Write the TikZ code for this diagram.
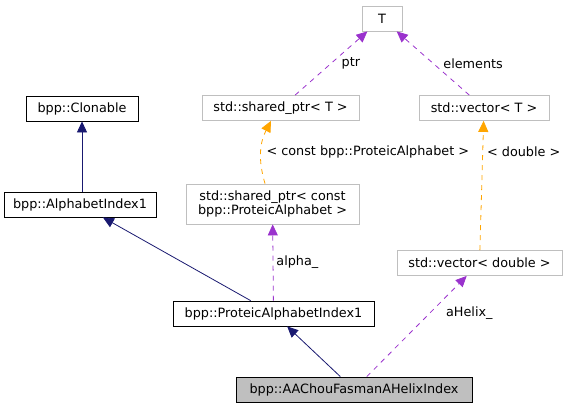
\documentclass[tikz,border=0pt]{standalone}
\usepackage{fontspec}
\setmainfont{DejaVu Sans}
\usepackage{xcolor}
\usetikzlibrary{arrows.meta, positioning}

\definecolor{edgeblue}{HTML}{191970}
\definecolor{edgepurple}{HTML}{9A32CD}
\definecolor{edgeorange}{HTML}{FFA500}
\definecolor{boxgrey}{HTML}{BFBFBF}

\begin{document}
\begin{tikzpicture}[
x=1pt, y=-1pt,
every node/.style={font=\fontsize{12.8}{14}\selectfont},
cls/.style={draw=black, rectangle, align=center, minimum height=25pt, inner sep=2pt, line width=0.8pt},
ext/.style={cls, draw=boxgrey},
inh/.style={-{Triangle[length=11pt, width=10pt]}, edgeblue, line width=0.8pt},
usage/.style={-{Triangle[length=11pt, width=10pt]}, edgepurple, line width=0.8pt, dash pattern=on 5pt off 5pt},
tmpl/.style={-{Triangle[length=11pt, width=10pt]}, edgeorange, line width=0.8pt, dash pattern=on 5pt off 5pt},
lbl/.style={inner sep=3pt, text=black}
]
\useasboundingbox (0,0) rectangle (567,408);

\node[ext, minimum width=40pt] (t) at (382,18.5) {T};
\node[ext, minimum width=157pt] (sptrt) at (280.5,108) {std::shared\_ptr< T >};
\node[ext, minimum width=130pt] (vect) at (484,108) {std::vector< T >};
\node[cls, minimum width=112pt] (clonable) at (82,108.5) {bpp::Clonable};
\node[cls, minimum width=152pt] (alphaidx) at (80,204.5) {bpp::AlphabetIndex1};
\node[ext, minimum width=173pt, minimum height=40pt] (sptrprot) at (272.5,204) {std::shared\_ptr< const\\ bpp::ProteicAlphabet >};
\node[ext, minimum width=165pt] (vecdouble) at (479.5,263) {std::vector< double >};
\node[cls, minimum width=201pt] (protidx) at (273.5,313.5) {bpp::ProteicAlphabetIndex1};
\node[cls, fill=boxgrey, minimum width=236pt] (helix) at (354,389.5) {bpp::AAChouFasmanAHelixIndex};

\draw[inh] (clonable |- alphaidx.north) -- (clonable);
\draw[inh] (protidx) -- (alphaidx);
\draw[inh] (helix) -- (protidx);

\draw[usage] (protidx) -- node[lbl, right] {alpha\_} (sptrprot);
\draw[usage] (helix) -- node[lbl, pos=0.63, right=13pt] {aHelix\_} (vecdouble);
\draw[usage] (sptrt) -- node[lbl, right=7pt] {ptr} (t);
\draw[usage] (vect) -- node[lbl, right=7pt] {elements} (t);

\draw[tmpl] ([xshift=-7.5pt]sptrprot.north) to[bend left=22] node[lbl, right=2pt] {< const bpp::ProteicAlphabet >} ([xshift=-9.5pt]sptrt.south);
\draw[tmpl] (vecdouble) -- node[lbl, pos=0.76, right=1pt] {< double >} (vect);

\end{tikzpicture}
\end{document}
